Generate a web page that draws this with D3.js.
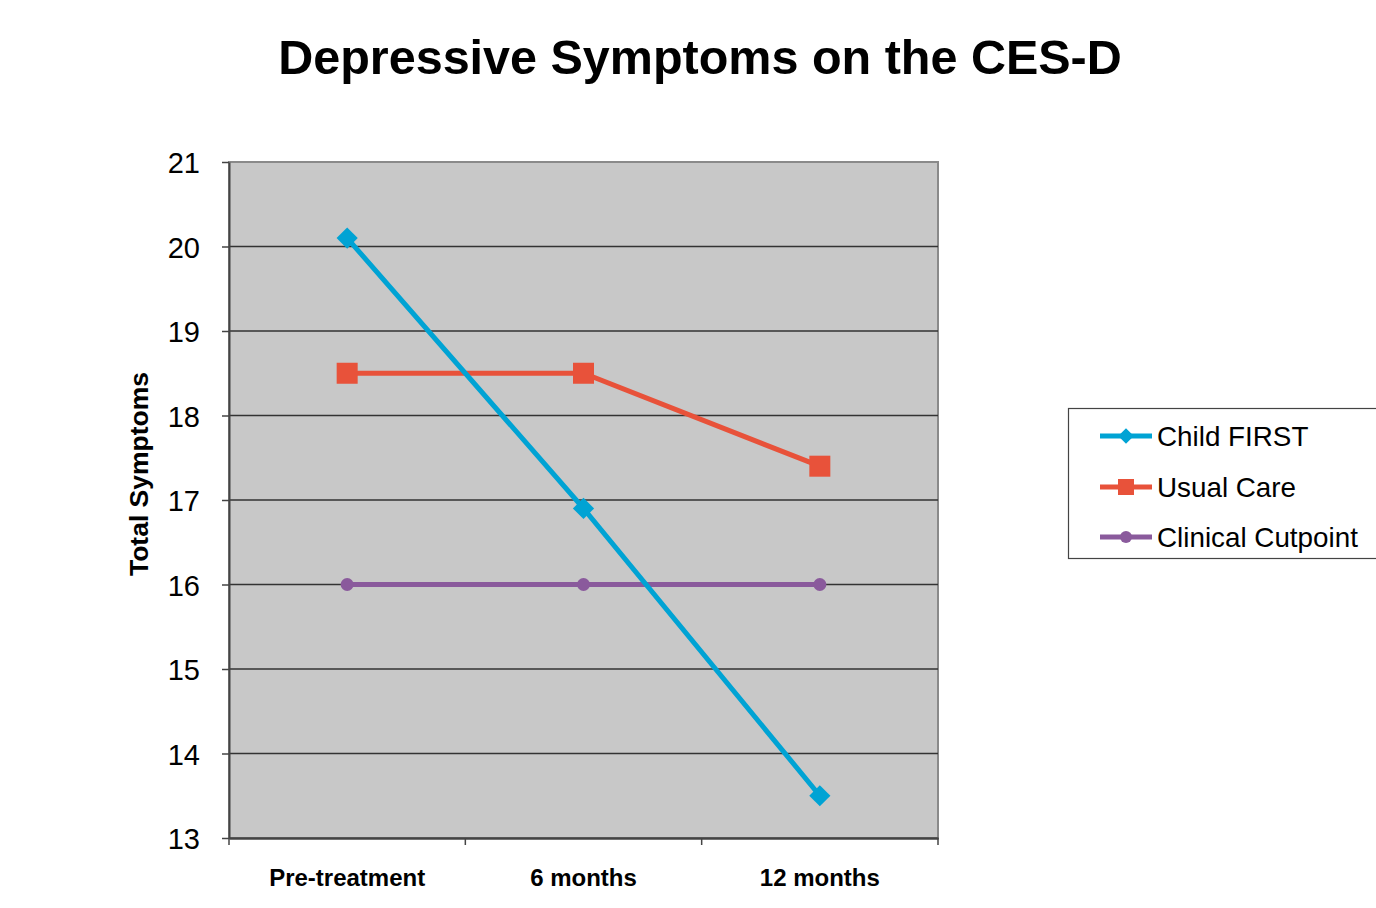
<!DOCTYPE html>
<html><head><meta charset="utf-8">
<script src="https://cdn.jsdelivr.net/npm/d3@7"></script>
<style>body{margin:0;background:#fff;}svg{display:block;font-family:"Liberation Sans",Arial,sans-serif;}</style>
</head><body>
<svg id="c" width="1376" height="908"></svg>
<script>
const categories = ["Pre-treatment", "6 months", "12 months"];
const childFirst = [20.1, 16.9, 13.5];
const usualCare = [18.5, 18.5, 17.4];
const clinicalCutpoint = [16, 16, 16];
const yTicks = [13, 14, 15, 16, 17, 18, 19, 20, 21];
const seriesNames = ["Child FIRST", "Usual Care", "Clinical Cutpoint"];

const svg = d3.select("#c");
const L = 229, R = 938, T = 162, B = 838;
const x = d3.scaleBand().domain(categories).range([L, R]);
const y = d3.scaleLinear().domain([13, 21]).range([B, T]);

svg.append("text").attr("x", 700).attr("y", 74).attr("text-anchor", "middle")
  .attr("font-size", 48.5).attr("font-weight", "bold").text("Depressive Symptoms on the CES-D");

svg.append("rect").attr("x", L).attr("y", T).attr("width", R - L).attr("height", B - T)
  .attr("fill", "#c8c8c8").attr("stroke", "#8a8a8a").attr("stroke-width", 2);

// gridlines
svg.append("g").selectAll("line").data(yTicks.filter(d => d > 13 && d < 21)).join("line")
  .attr("x1", L).attr("x2", R).attr("y1", d => y(d)).attr("y2", d => y(d))
  .attr("stroke", "#333").attr("stroke-width", 1.3);

// y axis
const ya = svg.append("g").attr("transform", `translate(${L},0)`)
  .call(d3.axisLeft(y).tickValues(yTicks).tickSize(7).tickSizeOuter(0).tickPadding(22));
ya.select(".domain").attr("stroke", "#444").attr("stroke-width", 2);
ya.selectAll(".tick line").attr("stroke", "#444").attr("stroke-width", 1.5);
ya.selectAll("text").attr("font-size", 29).attr("fill", "#000").attr("font-family", "Liberation Sans, Arial, sans-serif").attr("dy", "0.37em");

// x axis
const xa = svg.append("g").attr("transform", `translate(0,${B})`)
  .call(d3.axisBottom(x).tickSize(0).tickPadding(31));
xa.select(".domain").attr("stroke", "#444").attr("stroke-width", 2.5);
xa.selectAll("text").attr("font-size", 24).attr("font-weight", "bold").attr("fill", "#000")
  .attr("font-family", "Liberation Sans, Arial, sans-serif");
const bounds = [L, L + x.step(), L + 2 * x.step(), R];
svg.append("g").selectAll("line").data(bounds).join("line")
  .attr("x1", d => d).attr("x2", d => d).attr("y1", B).attr("y2", B + 7)
  .attr("stroke", "#444").attr("stroke-width", 1.5);

svg.append("text").attr("transform", `translate(148,474) rotate(-90)`)
  .attr("text-anchor", "middle").attr("font-size", 26.5).attr("font-weight", "bold").text("Total Symptoms");

const cx = c => x(c) + x.bandwidth() / 2;
const line = d3.line().x((d, i) => cx(categories[i])).y(d => y(d));
const colors = ["#00a3d4", "#e8523a", "#8a5a9c"];
const series = [childFirst, usualCare, clinicalCutpoint];

function marker(g, type, px, py, color, s) {
  if (type === 0) {
    g.append("rect").attr("x", px - s / 2).attr("y", py - s / 2).attr("width", s).attr("height", s)
      .attr("fill", color).attr("transform", `rotate(45,${px},${py})`);
  } else if (type === 1) {
    g.append("rect").attr("x", px - s / 2).attr("y", py - s / 2).attr("width", s).attr("height", s).attr("fill", color);
  } else {
    g.append("circle").attr("cx", px).attr("cy", py).attr("r", s / 2).attr("fill", color);
  }
}
const sizes = [15, 21, 13];

// draw order: clinical, usual, child
[2, 1, 0].forEach(k => {
  const g = svg.append("g");
  g.append("path").attr("d", line(series[k])).attr("fill", "none")
    .attr("stroke", colors[k]).attr("stroke-width", 5);
  series[k].forEach((v, i) => marker(g, k, cx(categories[i]), y(v), colors[k], sizes[k]));
});

// legend
svg.append("rect").attr("x", 1068.5).attr("y", 408.5).attr("width", 320).attr("height", 150)
  .attr("fill", "#fff").attr("stroke", "#444").attr("stroke-width", 1.2);
const ly = [436, 487, 537];
seriesNames.forEach((n, k) => {
  const g = svg.append("g");
  g.append("line").attr("x1", 1100).attr("x2", 1152).attr("y1", ly[k]).attr("y2", ly[k])
    .attr("stroke", colors[k]).attr("stroke-width", 5);
  marker(g, k, 1126, ly[k], colors[k], [11, 16, 12][k]);
  g.append("text").attr("x", 1157).attr("y", ly[k] + 10).attr("font-size", 27.8).text(n);
});
</script>
</body></html>
